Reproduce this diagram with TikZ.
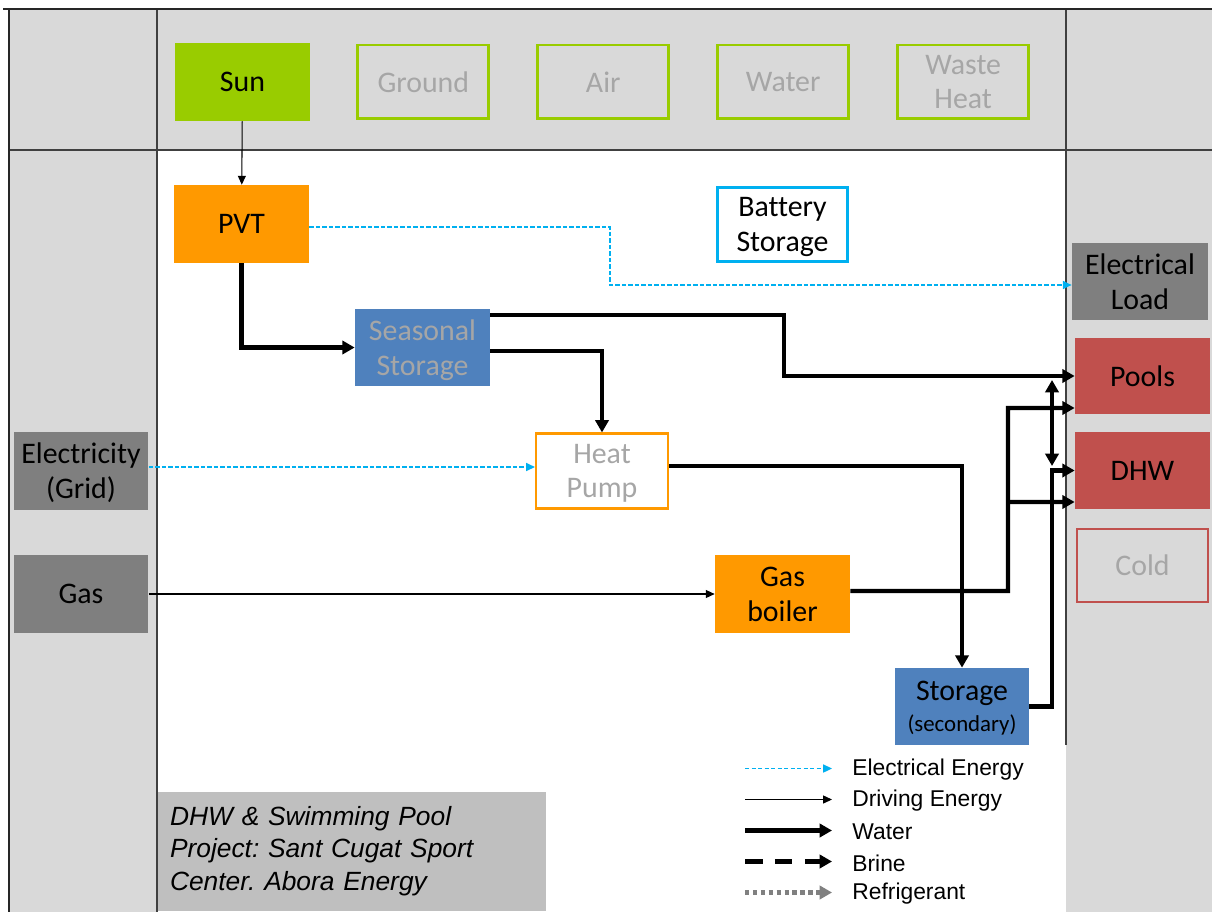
\documentclass[tikz,border=0pt]{standalone}
\usepackage{fontspec}
\setmainfont{Carlito}[Ligatures=NoCommon]
\newfontfamily\arialfont{Liberation Sans}
\usepackage{xcolor}
\usepackage{tikz}
\usetikzlibrary{positioning,arrows.meta}
\frenchspacing

\definecolor{panelgray}{HTML}{D9D9D9}
\definecolor{framegray}{HTML}{404040}
\definecolor{sungreen}{HTML}{99CC00}
\definecolor{heatorange}{HTML}{FF9900}
\definecolor{storeblue}{HTML}{4F81BD}
\definecolor{loadred}{HTML}{C0504D}
\definecolor{feedgray}{HTML}{7F7F7F}
\definecolor{elecblue}{HTML}{00B0F0}
\definecolor{mutedtext}{HTML}{A6A6A6}
\definecolor{notegray}{HTML}{BFBFBF}

\tikzstyle{unit}=[rectangle, minimum width=2.7cm, minimum height=1.56cm, inner sep=0pt,
        align=center, text depth=-2.5pt, font=\fontsize{17}{19.8}\selectfont]
\tikzstyle{ambient}=[unit, draw=sungreen, line width=1.7pt, fill=panelgray, text=mutedtext,
        minimum width=2.62cm, minimum height=1.48cm]
\tikzstyle{plant}=[unit, fill=heatorange]
\tikzstyle{tank}=[unit, fill=storeblue]
\tikzstyle{feed}=[unit, fill=feedgray]
\tikzstyle{demand}=[unit, fill=loadred]
\tikzstyle{water}=[line width=2.3pt, -{Triangle[length=7pt,width=7.5pt]}]
\tikzstyle{drive}=[line width=0.6pt, -{Triangle[length=5pt,width=4.5pt]}]
\tikzstyle{elec}=[elecblue, line width=1pt, dash pattern=on 2.5pt off 1.2pt,
        -{Triangle[length=5pt,width=4.5pt]}]
\tikzstyle{brine}=[line width=2.3pt, dash pattern=on 10pt off 7pt,
        -{Triangle[length=7pt,width=7.5pt]}]
\tikzstyle{refrig}=[gray, line width=2.3pt, dash pattern=on 2.5pt off 2pt,
        -{Triangle[length=7pt,width=7.5pt]}]
\tikzstyle{keylabel}=[anchor=west, inner sep=0pt, font=\arialfont\fontsize{13}{15}\selectfont]
\tikzstyle{notebox}=[fill=notegray, minimum width=7.76cm, minimum height=2.38cm, text width=7.28cm,
        align=left, inner sep=0pt, font=\arialfont\itshape\fontsize{15}{18.4}\selectfont]

\begin{document}
\begin{tikzpicture}[x=0.02cm, y=-0.02cm]
      \useasboundingbox (0,0) rectangle (1212,912);

      % panels
      \fill[panelgray] (10,10) rectangle (1212,912);
      \fill[white] (157,150) rectangle (1066,912);
      \draw[framegray, line width=0.8pt] (10,150) -- (1212,150);
      \draw[framegray, line width=0.8pt] (157,10) -- (157,912);
      \draw[framegray, line width=0.8pt] (1066,10) -- (1066,745);
      \draw[black!85, line width=1.6pt] (3,9) -- (1212,9);
      \draw[black!85, line width=1.6pt] (9,9) -- (9,912);

      % sources
      \node (sun) [unit, fill=sungreen] at (242.5,82) {Sun};
      \node (ground) [ambient, right=0.92cm of sun] {Ground};
      \node (air) [ambient, right=0.92cm of ground] {Air};
      \node (water) [ambient, right=0.92cm of air] {Water};
      \node (waste) [ambient, right=0.92cm of water] {Waste\\Heat};

      % plant
      \node (pvt) [plant] at (241.5,224) {PVT};
      \node (battery) [unit, draw=elecblue, line width=1.7pt, fill=white, minimum width=2.6cm,
        minimum height=1.48cm] at (782.5,224.5) {Battery\\Storage};
      \node (seasonal) [tank, text=mutedtext] at (422.5,347.5) {Seasonal\\Storage};
      \node (heatpump) [unit, draw=heatorange, line width=1.2pt, fill=white, text=mutedtext,
        minimum width=2.64cm, minimum height=1.5cm] at (602,471) {Heat\\Pump};
      \node (boiler) [plant] at (782.5,594) {Gas\\boiler};
      \node (storage2) [tank, minimum width=2.68cm, minimum height=1.54cm] at (962,706.5)
        {Storage\\[-2pt]{\fontsize{13}{15}\selectfont (secondary)}};

      % grid supply
      \node (grid) [feed] at (81,471) {Electricity\\(Grid)};
      \node (gas) [feed] at (81,594) {Gas};

      % demands
      \node (load) [feed, minimum width=2.72cm, minimum height=1.54cm] at (1140,281.5) {Electrical\\Load};
      \node (pools) [demand, minimum height=1.52cm] at (1142.5,376) {Pools};
      \node (dhw) [demand, minimum height=1.54cm] at (1142.5,470.5) {DHW};
      \node (cold) [unit, draw=loadred, line width=1.1pt, fill=panelgray, text=mutedtext,
        minimum width=2.62cm, minimum height=1.46cm] at (1142.5,565.5) {Cold};

      % connections
      \coordinate (elecbend) at (610,0);
      \coordinate (loadin) at ([yshift=-0.07cm]load.west);
      \coordinate (seasdrop) at (784,376);
      \coordinate (boilriser) at (1008,408);
      \coordinate (boiltap) at (1008,502);
      \coordinate (riser) at (1052,0);
      \coordinate (risertop) at (1052,380);
      \coordinate (riserlow) at (1052,466);

      \draw[drive] (sun) -- (pvt);
      \draw[elec] ([yshift=-0.06cm]pvt.east) -| (elecbend |- loadin) -- (loadin);
      \draw[water] (pvt.south) |- (seasonal.west);
      \draw[water] ([yshift=0.65cm]seasonal.east) -| (seasdrop) -- (pools.west);
      \draw[water] ([yshift=-0.07cm]seasonal.east) -| (heatpump.north);
      \draw[elec] ([yshift=0.08cm]grid.east) -- ([yshift=0.08cm]heatpump.west);
      \draw[water] ([yshift=0.1cm]heatpump.east) -| (storage2.north);
      \draw[drive] (gas.east) -- (boiler.west);
      \draw[water] ([yshift=0.06cm]boiler.east) -| (boilriser) -- ([yshift=-0.64cm]pools.west);
      \draw[water] (boiltap) -- ([yshift=-0.63cm]dhw.west);
      \draw[water] (storage2.east) -| (riser |- dhw.west) -- (dhw.west);
      \draw[water, {Triangle[length=7pt,width=7.5pt]}-{Triangle[length=7pt,width=7.5pt]}]
        (risertop) -- (riserlow);

      % legend
      \foreach \kind/\label [count=\i] in {elec/Electrical Energy, drive/Driving Energy,
          water/Water, brine/Brine, refrig/Refrigerant} {
        \coordinate (keystart\i) at (745,{737.5+31*\i});
        \coordinate (keyend\i) at (832,{737.5+31*\i});
        \draw[\kind] (keystart\i) -- (keyend\i);
        \node (keytext\i) [keylabel] at (852,{739+31*\i}) {\label};
      }

      \node (note) [notebox] at (352,851)
        {DHW \& Swimming Pool\\Project: Sant Cugat Sport\\Center. Abora Energy};
\end{tikzpicture}
\end{document}
